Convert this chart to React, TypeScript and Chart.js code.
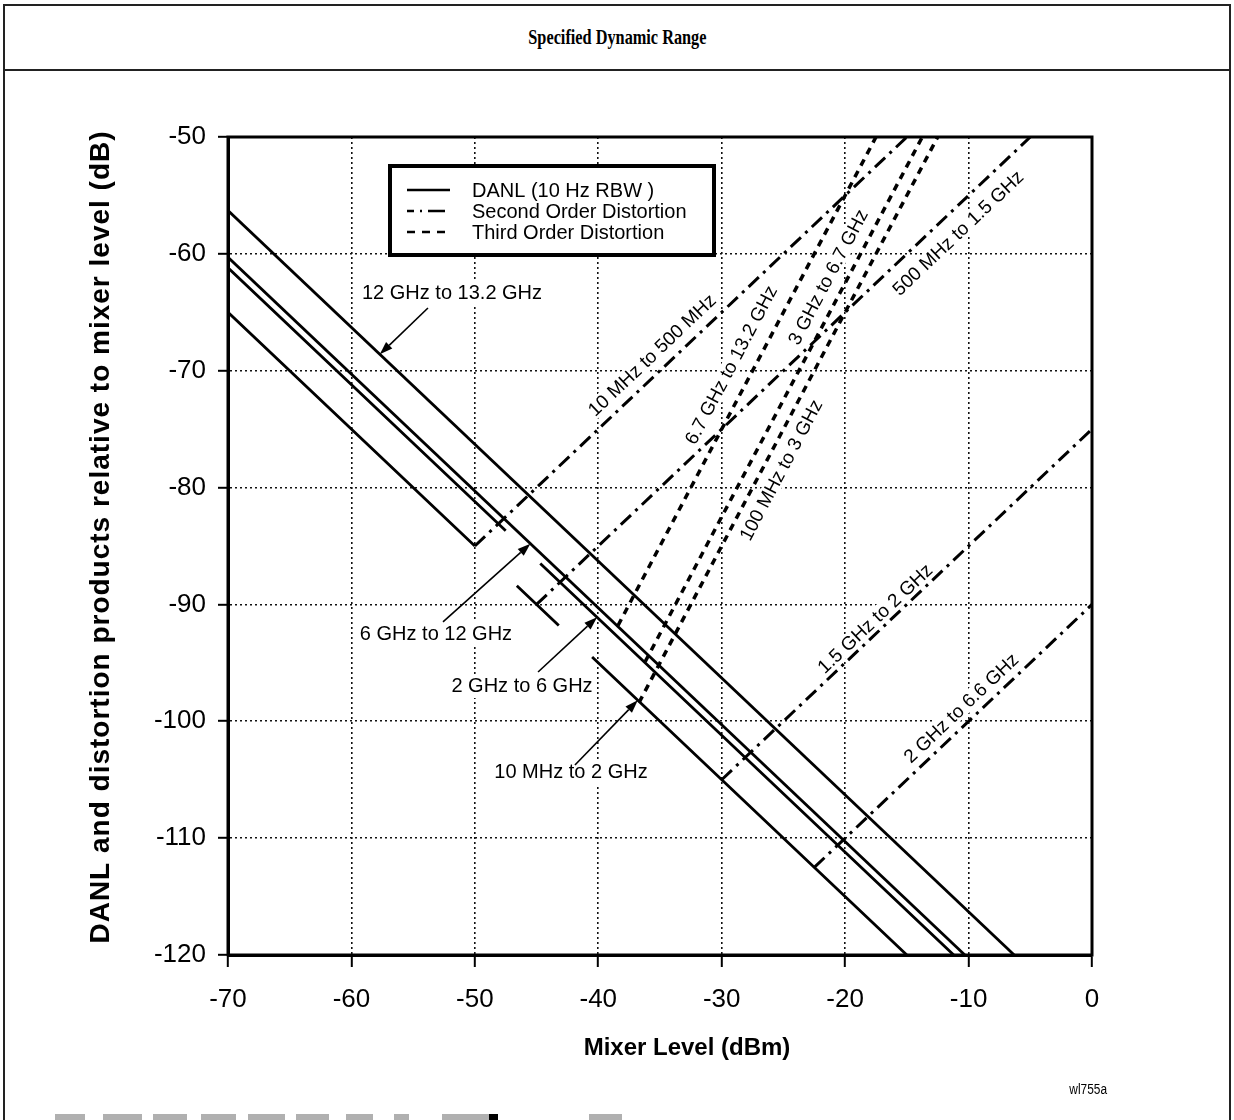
import React, { useEffect, useRef } from "react";
import { Chart, registerables } from "chart.js";

Chart.register(...registerables);

// ---------- axis ticks ----------
const xTickValues = [-70, -60, -50, -40, -30, -20, -10, 0];
const yTickValues = [-120, -110, -100, -90, -80, -70, -60, -50];

// ---------- DANL (10 Hz RBW), solid lines; y: null marks a break in the printed line ----------
const danl12to13p2GHz = [{ x: -70, y: -56.3 }, { x: -6.3, y: -120 }];
const danl6to12GHz = [{ x: -70, y: -60.3 }, { x: -10.3, y: -120 }];
const danl2to6GHz = [
  { x: -70, y: -61.2 }, { x: -47.5, y: -83.7 }, { x: -46.1, y: null },
  { x: -44.7, y: -86.5 }, { x: -11.2, y: -120 },
];
const danl10MHzto2GHz = [
  { x: -70, y: -65 }, { x: -50, y: -85 }, { x: -48.3, y: null },
  { x: -46.6, y: -88.4 }, { x: -43.2, y: -91.8 }, { x: -41.9, y: null },
  { x: -40.5, y: -94.5 }, { x: -15, y: -120 },
];

// ---------- Second order distortion (dash-dot) ----------
const so10to500MHz = [{ x: -50, y: -85 }, { x: -15, y: -50 }];
const so500MHzto1p5GHz = [{ x: -45, y: -90 }, { x: -5, y: -50 }];
const so1p5to2GHz = [{ x: -30, y: -105 }, { x: 0, y: -75 }];
const so2to6p6GHz = [{ x: -22.5, y: -112.5 }, { x: 0, y: -90 }];

// ---------- Third order distortion (dashed) ----------
const to6p7to13p2GHz = [{ x: -38.4, y: -91.8 }, { x: -17.5, y: -50 }];
const to3to6p7GHz = [{ x: -36.2, y: -94.9 }, { x: -13.75, y: -50 }];
const to100MHzto3GHz = [{ x: -36.7, y: -98.4 }, { x: -12.5, y: -50 }];

// ---------- annotations (data coordinates) ----------
const arrowLabels = [
  { text: "12 GHz to 13.2 GHz", x: -51.85, y: -63.35, tail: [-53.8, -64.63], tip: [-57.7, -68.6] },
  { text: "6 GHz to 12 GHz", x: -53.15, y: -92.53, tail: [-52.58, -91.5], tip: [-45.5, -84.8] },
  { text: "2 GHz to 6 GHz", x: -46.18, y: -96.98, tail: [-44.88, -95.78], tip: [-40.1, -91.1] },
  { text: "10 MHz to 2 GHz", x: -42.21, y: -104.42, tail: [-41.89, -103.74], tip: [-36.8, -98.2] },
];

const lineLabels = [
  { text: "10 MHz to 500 MHz", x: -35.65, y: -68.65, slope: 1 },
  { text: "500 MHz to 1.5 GHz", x: -10.86, y: -58.21, slope: 1 },
  { text: "1.5 GHz to 2 GHz", x: -17.58, y: -91.2, slope: 1 },
  { text: "2 GHz to 6.6 GHz", x: -10.61, y: -98.86, slope: 1 },
  { text: "6.7 GHz to 13.2 GHz", x: -29.25, y: -69.51, slope: 2 },
  { text: "3 GHz to 6.7 GHz", x: -21.39, y: -61.98, slope: 2 },
  { text: "100 MHz to 3 GHz", x: -25.2, y: -78.5, slope: 2 },
];

const legendItems = [
  { text: "DANL (10 Hz RBW )", dash: [] as number[] },
  { text: "Second Order Distortion", dash: [7, 6, 2, 6, 17, 40] },
  { text: "Third Order Distortion", dash: [8, 7] },
];

const xAxisTitle = "Mixer Level (dBm)";
const yAxisTitle = "DANL and distortion products relative to mixer level (dB)";

const bottomBars = [
  [55, 85], [103, 142], [153, 187], [201, 236], [248, 285], [296, 329],
  [346, 373], [394, 409], [442, 489], [589, 622],
];

const SANS = '"Liberation Sans", Arial, sans-serif';
const DASH_DOT = [14, 6, 3, 6];
const DASHED = [7, 6];

const solid = (label: string, data: any[]) => ({
  label, data, borderColor: "#000", borderWidth: 2.8, pointRadius: 0, spanGaps: false,
  tension: 0, borderCapStyle: "butt",
});
const dashDot = (label: string, data: any[]) => ({
  ...solid(label, data), borderWidth: 3, borderDash: DASH_DOT,
});
const dashed = (label: string, data: any[]) => ({
  ...solid(label, data), borderWidth: 3.5, borderDash: DASHED,
});

const angleFor = (xs: any, ys: any, slope: number) =>
  Math.atan2(
    ys.getPixelForValue(slope) - ys.getPixelForValue(0),
    xs.getPixelForValue(1) - xs.getPixelForValue(0)
  );

const overlayPlugin = {
  id: "overlay",
  beforeDatasetsDraw(chart: any) {
    const { ctx, scales } = chart;
    const xs = scales.x, ys = scales.y;
    ctx.save();
    ctx.fillStyle = "#fff";
    ctx.font = `20px ${SANS}`;
    for (const a of arrowLabels) {
      const w = ctx.measureText(a.text).width;
      const px = xs.getPixelForValue(a.x), py = ys.getPixelForValue(a.y);
      ctx.fillRect(px - w / 2 - 3, py - 12, w + 6, 24);
    }
    ctx.font = `19px ${SANS}`;
    for (const l of lineLabels) {
      const w = ctx.measureText(l.text).width;
      const px = xs.getPixelForValue(l.x), py = ys.getPixelForValue(l.y);
      ctx.save();
      ctx.translate(px, py);
      ctx.rotate(angleFor(xs, ys, l.slope));
      ctx.fillRect(-w / 2 - 2, -9, w + 4, 18);
      ctx.restore();
    }
    ctx.restore();
  },
  afterDatasetsDraw(chart: any) {
    const { ctx, scales, chartArea } = chart;
    const xs = scales.x, ys = scales.y;
    ctx.save();
    // frame of the plot
    ctx.strokeStyle = "#000";
    ctx.lineWidth = 3;
    ctx.setLineDash([]);
    ctx.strokeRect(chartArea.left, chartArea.top, chartArea.right - chartArea.left, chartArea.bottom - chartArea.top);

    // arrow labels
    ctx.fillStyle = "#000";
    ctx.font = `20px ${SANS}`;
    ctx.textAlign = "center";
    ctx.textBaseline = "middle";
    for (const a of arrowLabels) {
      ctx.fillText(a.text, xs.getPixelForValue(a.x), ys.getPixelForValue(a.y));
      const sx = xs.getPixelForValue(a.tail[0]), sy = ys.getPixelForValue(a.tail[1]);
      const tx = xs.getPixelForValue(a.tip[0]), ty = ys.getPixelForValue(a.tip[1]);
      const ang = Math.atan2(ty - sy, tx - sx);
      const hl = 13, hw = 4.5;
      const bx = tx - hl * Math.cos(ang), by = ty - hl * Math.sin(ang);
      ctx.lineWidth = 1.6;
      ctx.beginPath();
      ctx.moveTo(sx, sy);
      ctx.lineTo(bx, by);
      ctx.stroke();
      ctx.beginPath();
      ctx.moveTo(tx, ty);
      ctx.lineTo(bx + hw * Math.sin(ang), by - hw * Math.cos(ang));
      ctx.lineTo(bx - hw * Math.sin(ang), by + hw * Math.cos(ang));
      ctx.closePath();
      ctx.fill();
    }

    // rotated line labels
    ctx.font = `19px ${SANS}`;
    for (const l of lineLabels) {
      const px = xs.getPixelForValue(l.x), py = ys.getPixelForValue(l.y);
      ctx.save();
      ctx.translate(px, py);
      ctx.rotate(angleFor(xs, ys, l.slope));
      ctx.fillText(l.text, 0, 1);
      ctx.restore();
    }

    // legend box
    const lx = chartArea.left + 162, ly = chartArea.top + 29, lw = 324, lh = 89;
    ctx.fillStyle = "#fff";
    ctx.fillRect(lx, ly, lw, lh);
    ctx.lineWidth = 4;
    ctx.strokeStyle = "#000";
    ctx.strokeRect(lx, ly, lw, lh);
    ctx.fillStyle = "#000";
    ctx.textAlign = "left";
    ctx.font = `20px ${SANS}`;
    legendItems.forEach((it, i) => {
      const yy = ly + 24 + i * 21;
      ctx.lineWidth = 2.5;
      ctx.setLineDash(it.dash);
      ctx.beginPath();
      ctx.moveTo(lx + 17, yy);
      ctx.lineTo(lx + 60, yy);
      ctx.stroke();
      ctx.setLineDash([]);
      ctx.fillText(it.text, lx + 82, yy + 1);
    });
    ctx.restore();
  },
  afterDraw(chart: any) {
    const { ctx, chartArea } = chart;
    // y axis title
    ctx.save();
    ctx.fillStyle = "#000";
    ctx.font = `bold 28px ${SANS}`;
    try { (ctx as any).letterSpacing = "1px"; } catch (e) {}
    ctx.textAlign = "center";
    ctx.textBaseline = "middle";
    ctx.translate(101, (chartArea.top + chartArea.bottom) / 2 - 9);
    ctx.rotate(-Math.PI / 2);
    ctx.fillText(yAxisTitle, 0, 0);
    ctx.restore();
    // x axis title
    ctx.save();
    ctx.fillStyle = "#000";
    ctx.font = `bold 24px ${SANS}`;
    ctx.textAlign = "center";
    ctx.textBaseline = "middle";
    ctx.fillText(xAxisTitle, (chartArea.left + chartArea.right) / 2 + 27, chartArea.bottom + 93);
    ctx.restore();
  },
};

export default function App() {
  const ref = useRef<HTMLCanvasElement>(null);
  useEffect(() => {
    if (!ref.current) return;
    const chart = new Chart(ref.current, {
      type: "line",
      data: {
        datasets: [
          solid("DANL 12 GHz to 13.2 GHz", danl12to13p2GHz),
          solid("DANL 6 GHz to 12 GHz", danl6to12GHz),
          solid("DANL 2 GHz to 6 GHz", danl2to6GHz),
          solid("DANL 10 MHz to 2 GHz", danl10MHzto2GHz),
          dashDot("SOD 10 MHz to 500 MHz", so10to500MHz),
          dashDot("SOD 500 MHz to 1.5 GHz", so500MHzto1p5GHz),
          dashDot("SOD 1.5 GHz to 2 GHz", so1p5to2GHz),
          dashDot("SOD 2 GHz to 6.6 GHz", so2to6p6GHz),
          dashed("TOD 6.7 GHz to 13.2 GHz", to6p7to13p2GHz),
          dashed("TOD 3 GHz to 6.7 GHz", to3to6p7GHz),
          dashed("TOD 100 MHz to 3 GHz", to100MHzto3GHz),
        ] as any,
      },
      options: {
        animation: false,
        responsive: false,
        events: [],
        layout: { padding: { left: 0, top: 137, right: 142, bottom: 0 } },
        plugins: { legend: { display: false }, tooltip: { enabled: false }, title: { display: false } },
        scales: {
          x: {
            type: "linear",
            min: -70,
            max: 0,
            position: "bottom",
            afterBuildTicks: (s: any) => { s.ticks = xTickValues.map((v) => ({ value: v })); },
            afterFit: (s: any) => { s.height = 165; },
            ticks: {
              font: { family: SANS, size: 26 }, color: "#000", padding: 17,
              autoSkip: false, maxRotation: 0, callback: (v: any) => String(v),
            },
            grid: {
              color: "#111", lineWidth: 1.6, drawTicks: true, tickLength: 12,
              tickColor: "#000", tickWidth: 2, tickBorderDash: [],
            },
            border: { display: true, color: "#000", width: 3, dash: [2, 3] },
            title: { display: false },
          },
          y: {
            type: "linear",
            min: -120,
            max: -50,
            position: "left",
            afterBuildTicks: (s: any) => { s.ticks = yTickValues.map((v) => ({ value: v })); },
            afterFit: (s: any) => { s.width = 228; },
            ticks: {
              font: { family: SANS, size: 26 }, color: "#000", padding: 12,
              autoSkip: false, callback: (v: any) => String(v),
            },
            grid: {
              color: "#111", lineWidth: 1.6, drawTicks: true, tickLength: 10,
              tickColor: "#000", tickWidth: 2, tickBorderDash: [],
            },
            border: { display: true, color: "#000", width: 3, dash: [2, 3] },
            title: { display: false },
          },
        },
      } as any,
      plugins: [overlayPlugin],
    });
    return () => chart.destroy();
  }, []);

  return (
    <div style={{ position: "absolute", left: 0, top: 0, width: 1234, height: 1120, background: "#fff", overflow: "hidden" }}>
      <div style={{ position: "absolute", left: 3, top: 4, width: 1224, height: 1140, borderTop: "2px solid #222", borderLeft: "2px solid #222", borderRight: "2px solid #222" }} />
      <div style={{ position: "absolute", left: 3, top: 69, width: 1228, height: 0, borderTop: "2px solid #222" }} />
      <div style={{ position: "absolute", left: 0, top: 24, width: 1234, textAlign: "center", color: "#000" }}>
        <span style={{ display: "inline-block", font: 'bold 22px "Liberation Serif", serif', transform: "scaleX(0.74)" }}>
          Specified Dynamic Range
        </span>
      </div>
      <canvas ref={ref} width={1234} height={1120} style={{ position: "absolute", left: 0, top: 0 }} />
      <div style={{ position: "absolute", left: 1055, top: 1080, width: 66, textAlign: "center", color: "#000" }}>
        <span style={{ display: "inline-block", font: `14px ${SANS}`, transform: "scaleX(0.85)" }}>wl755a</span>
      </div>
      {bottomBars.map(([a, b], i) => (
        <div key={i} style={{ position: "absolute", left: a, top: 1114, width: b - a, height: 6, background: "#b0b0b0" }} />
      ))}
      <div style={{ position: "absolute", left: 489, top: 1114, width: 9, height: 6, background: "#000" }} />
    </div>
  );
}
